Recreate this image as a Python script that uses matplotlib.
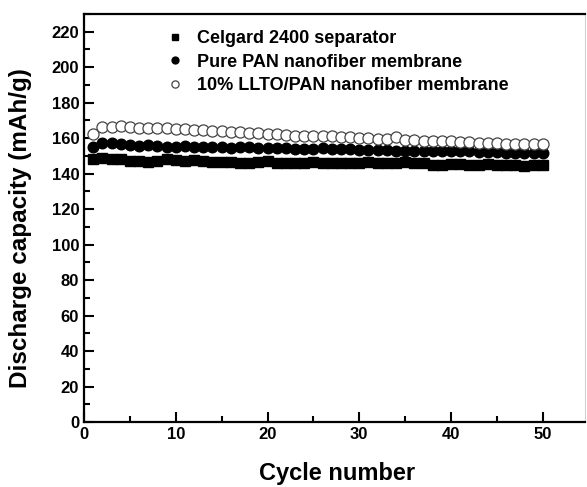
import numpy as np
import matplotlib.pyplot as plt
from matplotlib.ticker import MultipleLocator

plt.rcParams['font.family'] = ['Liberation Sans', 'DejaVu Sans']
plt.rcParams['font.weight'] = 'bold'

# Data
cycles = list(range(1, 51))

celgard = [148, 149, 148, 148.5, 147, 147, 146.5, 147, 148, 147.5,
           147, 147.5, 147, 146.5, 146.5, 146.5, 146, 146, 146.5, 147,
           146, 146, 146, 146, 146.5, 146, 146, 146, 146, 146,
           146.5, 146, 146, 146, 146.5, 146, 146, 145, 145, 145.5,
           145.5, 145, 145, 145.5, 145, 145, 145, 144.5, 145, 145]

pure_pan = [155, 157.5, 157, 156.5, 156, 155.5, 156, 155.5, 155, 155,
            155.5, 155, 155, 155, 155, 154.5, 155, 155, 154.5, 154.5,
            154.5, 154.5, 154, 154, 154, 154.5, 154, 154, 154, 153.5,
            153.5, 153.5, 153.5, 153, 153, 153, 153, 153, 152.5, 152.5,
            152.5, 152.5, 152, 152, 152, 151.5, 151.5, 151.5, 151.5, 151.5]

llto_pan = [162.5, 166.5, 166.5, 167, 166.5, 166, 166, 166, 165.5, 165,
            165, 164.5, 164.5, 164, 164, 163.5, 163.5, 163, 163, 162.5,
            162.5, 162, 161.5, 161.5, 161, 161, 161, 160.5, 160.5, 160,
            160, 159.5, 159.5, 160.5, 159, 159, 158.5, 158.5, 158.5, 158.5,
            158, 158, 157.5, 157, 157, 156.5, 156.5, 156.5, 156.5, 156.5]

labels = ['Celgard 2400 separator',
          'Pure PAN nanofiber membrane',
          '10% LLTO/PAN nanofiber membrane']

fig = plt.figure(figsize=(5.87, 4.87), dpi=100)
ax = fig.add_axes([84 / 587, 65 / 487, 501 / 587, 408 / 487])

ax.plot(cycles, celgard, 's', color='black', markersize=6.8, label=labels[0])
ax.plot(cycles, pure_pan, 'o', color='black', markersize=7.6, label=labels[1])
ax.plot(cycles, llto_pan, 'o', markerfacecolor='white', markeredgecolor='#444444',
        markeredgewidth=0.9, markersize=8, label=labels[2])

ax.set_xlim(0, 54.6)
ax.set_ylim(0, 230)
ax.xaxis.set_major_locator(MultipleLocator(10))
ax.xaxis.set_minor_locator(MultipleLocator(5))
ax.yaxis.set_minor_locator(MultipleLocator(10))
ax.set_yticks(range(0, 221, 20))
ax.tick_params(which='both', direction='in', top=False, right=False, width=1.5, labelsize=12)
ax.tick_params(which='major', length=7)
ax.tick_params(which='minor', length=4.5)
for sp in ax.spines.values():
    sp.set_linewidth(1.6)
ax.spines['right'].set_linewidth(0.5)
ax.spines['right'].set_color('#bbbbbb')

ax.set_xlabel('Cycle number', fontsize=17, fontweight='bold')
ax.set_ylabel('Discharge capacity (mAh/g)', fontsize=17.5, fontweight='bold')
ax.xaxis.set_label_coords(0.505, -0.098)
ax.yaxis.set_label_coords(-0.104, 0.475)

leg = ax.legend(loc='upper left', bbox_to_anchor=(0.128, 1.0), frameon=False,
                fontsize=13, markerscale=0.65, handlelength=1.2,
                handletextpad=0.6, labelspacing=0.35)

fig.savefig('out.png', dpi=100)
